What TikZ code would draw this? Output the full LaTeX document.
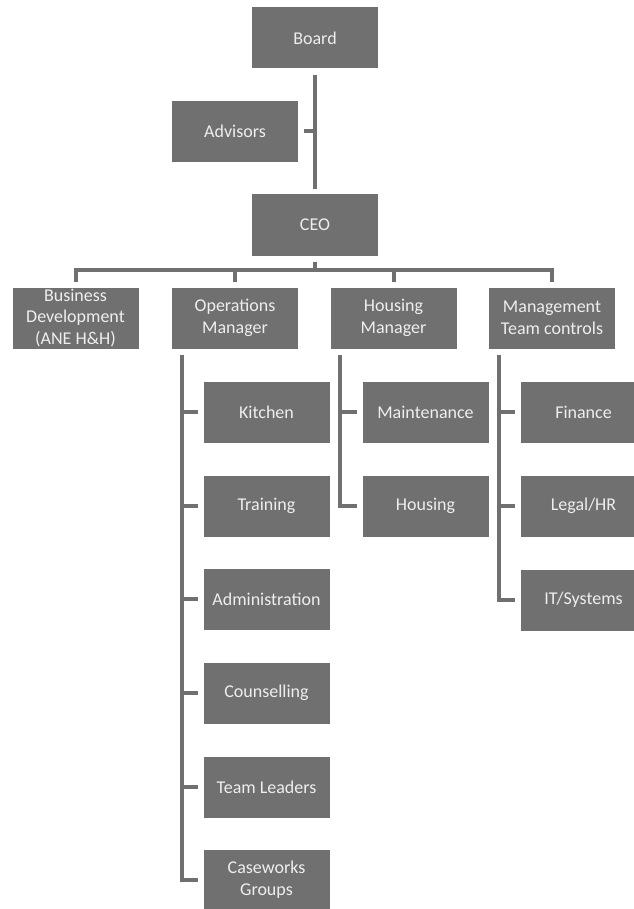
\documentclass[tikz,border=0pt]{standalone}
\usepackage{fontspec}
\setmainfont{Carlito}
\definecolor{boxgray}{RGB}{112,112,112}
\definecolor{textgray}{RGB}{238,238,238}
\tikzset{
    unit/.style={fill=boxgray, text=textgray, minimum width=94.5pt, minimum height=45.75pt,
        inner sep=0pt, align=center, font=\fontsize{13.5}{16.3}\selectfont},
    link/.style={draw=boxgray, line width=3pt, shorten <=4.5pt, shorten >=4pt}
}
\begin{document}
\begin{tikzpicture}[x=0.75pt, y=-0.75pt]
    \useasboundingbox (0,0) rectangle (634,909);

    % top of the chart
    \node[unit] (board) at (315,38) {Board};
    \node[unit] (advisors) at (235,131.5) {Advisors};
    \node[unit] (ceo) at (315,225) {CEO};

    % second level
    \node[unit] (bizdev) at (75.5,318) {Business\\Development\\(ANE H\&H)};
    \node[unit] (ops) at (235,318) {Operations\\Manager};
    \node[unit] (housemgr) at (393.5,318) {Housing\\Manager};
    \node[unit] (mgmt) at (552,318) {Management\\Team controls};

    % under operations
    \node[unit] (kitchen) at (266.5,412) {Kitchen};
    \node[unit] (training) at (266.5,506) {Training};
    \node[unit] (admin) at (266.5,599) {Administration};
    \node[unit] (counsel) at (266.5,693) {Counselling};
    \node[unit] (leaders) at (266.5,787) {Team Leaders};
    \node[unit] (casework) at (266.5,880) {Caseworks\\Groups};

    % under housing
    \node[unit] (maint) at (425.5,412) {Maintenance};
    \node[unit] (housing) at (425.5,506) {Housing};

    % under management
    \node[unit] (finance) at (583.5,412) {Finance};
    \node[unit] (legal) at (583.5,506) {Legal/HR};
    \node[unit] (itsys) at (583.5,600) {IT/Systems};

    % board to ceo, advisors on the side
    \draw[link] (board) -- (ceo);
    \draw[link, shorten >=0pt] (advisors.east) -- (advisors.east -| board.south);

    % ceo to second level
    \foreach \n in {bizdev,ops,housemgr,mgmt}
        \draw[link] (ceo.south) -- ++(0,14) -| (\n.north);

    % branches
    \foreach \n in {kitchen,training,admin,counsel,leaders,casework}
        \draw[link] ([xshift=7.5pt]ops.south west) |- (\n.west);
    \foreach \n in {maint,housing}
        \draw[link] ([xshift=7.5pt]housemgr.south west) |- (\n.west);
    \foreach \n in {finance,legal,itsys}
        \draw[link] ([xshift=7.5pt]mgmt.south west) |- (\n.west);
\end{tikzpicture}
\end{document}
